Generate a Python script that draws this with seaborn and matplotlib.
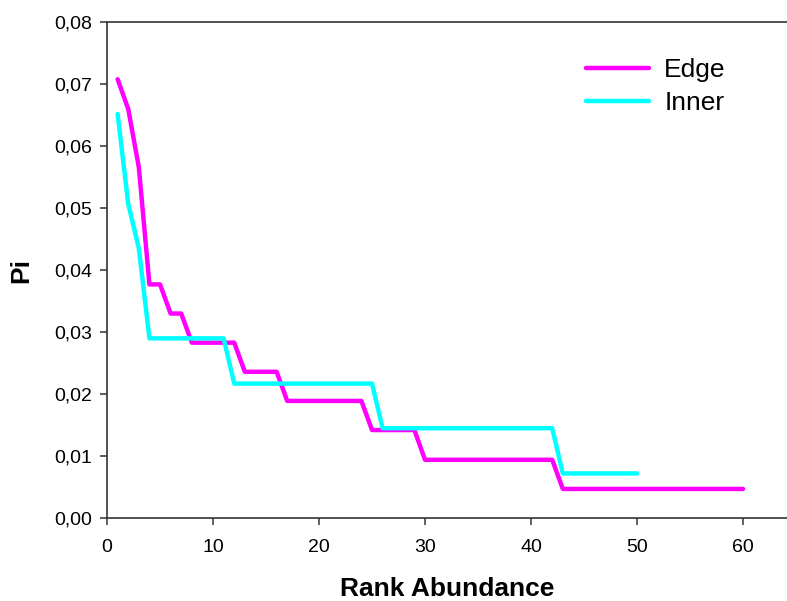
import matplotlib
matplotlib.use('Agg')
import matplotlib.pyplot as plt
import matplotlib.ticker as mticker
import pandas as pd
import seaborn as sns

# rank abundance data
edge_rank = list(range(1, 61))
edge_pi = [0.0708, 0.0660, 0.0566, 0.0377, 0.0377, 0.0330, 0.0330,
           0.0283, 0.0283, 0.0283, 0.0283, 0.0283,
           0.0236, 0.0236, 0.0236, 0.0236,
           0.0189, 0.0189, 0.0189, 0.0189, 0.0189, 0.0189, 0.0189, 0.0189,
           0.0142, 0.0142, 0.0142, 0.0142, 0.0142,
           0.0094, 0.0094, 0.0094, 0.0094, 0.0094, 0.0094, 0.0094,
           0.0094, 0.0094, 0.0094, 0.0094, 0.0094, 0.0094,
           0.0047, 0.0047, 0.0047, 0.0047, 0.0047, 0.0047, 0.0047, 0.0047, 0.0047,
           0.0047, 0.0047, 0.0047, 0.0047, 0.0047, 0.0047, 0.0047, 0.0047, 0.0047]

inner_rank = list(range(1, 51))
inner_pi = [0.0652, 0.0507, 0.0435,
            0.0290, 0.0290, 0.0290, 0.0290, 0.0290, 0.0290, 0.0290, 0.0290,
            0.0217, 0.0217, 0.0217, 0.0217, 0.0217, 0.0217, 0.0217,
            0.0217, 0.0217, 0.0217, 0.0217, 0.0217, 0.0217, 0.0217,
            0.0145, 0.0145, 0.0145, 0.0145, 0.0145, 0.0145, 0.0145, 0.0145, 0.0145,
            0.0145, 0.0145, 0.0145, 0.0145, 0.0145, 0.0145, 0.0145, 0.0145,
            0.0072, 0.0072, 0.0072, 0.0072, 0.0072, 0.0072, 0.0072, 0.0072]

x_ticks = [0, 10, 20, 30, 40, 50, 60]
y_ticks = [0.00, 0.01, 0.02, 0.03, 0.04, 0.05, 0.06, 0.07, 0.08]

df = pd.concat([
    pd.DataFrame({'rank': edge_rank, 'pi': edge_pi, 'site': 'Edge'}),
    pd.DataFrame({'rank': inner_rank, 'pi': inner_pi, 'site': 'Inner'}),
])

sns.set_style('white')
plt.rcParams['font.family'] = ['Liberation Sans', 'DejaVu Sans']
plt.rcParams['text.color'] = 'black'

fig = plt.figure(figsize=(7.87, 6.01), dpi=100)
ax = fig.add_axes([0.136, 0.138, 0.864, 0.825])

sns.lineplot(data=df, x='rank', y='pi', hue='site',
             palette={'Edge': '#ff00ff', 'Inner': '#00ffff'},
             linewidth=3.2, ax=ax, sort=False,
             solid_capstyle='round')

ax.set_xlim(0, 64.15)
ax.set_ylim(0, 0.08)
ax.set_xticks(x_ticks)
ax.set_yticks(y_ticks)
ax.yaxis.set_major_formatter(mticker.FuncFormatter(
    lambda v, p: f'{v:.2f}'.replace('.', ',')))

ax.tick_params(direction='out', length=5, width=1.1, color='#333333',
               labelsize=14, labelcolor='black', left=True, bottom=True)
ax.tick_params(axis='y', pad=6)
ax.tick_params(axis='x', pad=10)
for side in ['left', 'bottom', 'top']:
    ax.spines[side].set_linewidth(1.2)
    ax.spines[side].set_color('#333333')
ax.spines['right'].set_visible(False)

ax.set_xlabel('Rank Abundance', fontsize=19, fontweight='bold',
              labelpad=15, color='black')
ax.set_ylabel('Pi', fontsize=19, fontweight='bold', labelpad=15,
              color='black')

leg = ax.legend(loc='upper right', bbox_to_anchor=(0.945, 0.975), frameon=False,
                fontsize=19, handlelength=2.4, handletextpad=0.57,
                labelspacing=0.32)
for line in leg.get_lines():
    line.set_linewidth(3.2)
for t in leg.get_texts():
    t.set_color('black')

plt.savefig('out.png', dpi=100)
plt.close()
